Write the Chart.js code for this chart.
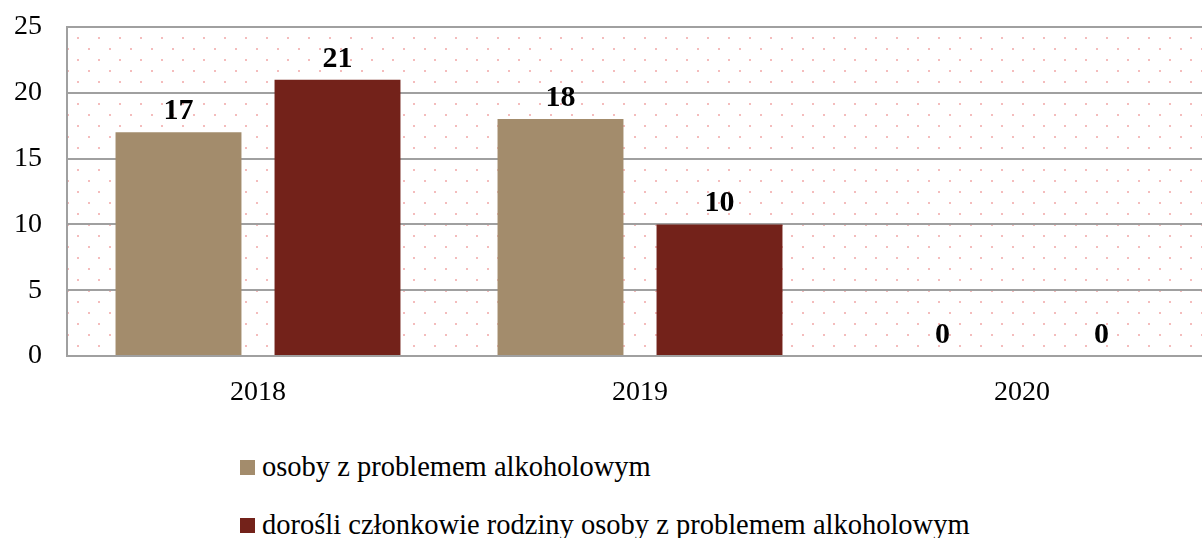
<!DOCTYPE html>
<html>
<head>
<meta charset="utf-8">
<script src="https://cdn.jsdelivr.net/npm/chart.js@4/dist/chart.umd.min.js"></script>
<style>
  html, body { margin: 0; padding: 0; background: #fff; overflow: hidden; width: 1202px; height: 538px; }
  #wrap { position: absolute; left: 0; top: 0; width: 1213px; height: 420px; }
  #legend { position: absolute; left: 240px; top: 452px; font-family: "Liberation Serif", serif; font-size: 28.5px; color: #000; }
  #legend .item { display: flex; align-items: center; height: 30px; margin-bottom: 28px; white-space: nowrap; }
  #legend .box { width: 15px; height: 15px; margin-right: 7px; }
</style>
</head>
<body>
<div id="wrap"><canvas id="chart" width="1213" height="420"></canvas></div>
<div id="legend"></div>
<script>
// dane wykresu
const years = ['2018', '2019', '2020'];
const osobyZProblemem = [17, 18, 0];
const dorosliCzlonkowie = [21, 10, 0];
const seriesNames = ['osoby z problemem alkoholowym', 'dorośli członkowie rodziny osoby z problemem alkoholowym'];
const seriesColors = ['#a38c6c', '#73221a'];
const yTicks = [0, 5, 10, 15, 20, 25];

const FONT = '"Liberation Serif", serif';

// tło obszaru wykresu: różowe kropki
function makeDots() {
    const c = document.createElement('canvas');
    c.width = 21; c.height = 22;
    const g = c.getContext('2d');
    g.fillStyle = '#fff';
    g.fillRect(0, 0, 21, 22);
    g.fillStyle = '#f4bcbc';
    g.fillRect(4, 4, 2, 2);
    g.fillRect(14, 15, 2, 2);
    return c;
}

const dotsBackground = {
    id: 'dotsBackground',
    beforeDraw(chart) {
        const { ctx, chartArea: a } = chart;
        ctx.save();
        ctx.fillStyle = ctx.createPattern(makeDots(), 'repeat');
        ctx.fillRect(a.left, a.top, a.right - a.left, a.bottom - a.top);
        ctx.restore();
    }
};

// etykiety wartości nad słupkami
const valueLabels = {
    id: 'valueLabels',
    afterDatasetsDraw(chart) {
        const ctx = chart.ctx;
        ctx.save();
        ctx.font = 'bold 30px ' + FONT;
        ctx.fillStyle = '#000';
        ctx.textAlign = 'center';
        ctx.textBaseline = 'alphabetic';
        chart.data.datasets.forEach((ds, i) => {
            chart.getDatasetMeta(i).data.forEach((bar, j) => {
                ctx.fillText(String(ds.data[j]), bar.x, bar.y - 13);
            });
        });
        ctx.restore();
    }
};

const chart = new Chart(document.getElementById('chart'), {
    type: 'bar',
    data: {
        labels: years,
        datasets: [
            { label: seriesNames[0], data: osobyZProblemem, backgroundColor: seriesColors[0] },
            { label: seriesNames[1], data: dorosliCzlonkowie, backgroundColor: seriesColors[1] }
        ]
    },
    options: {
        responsive: false,
        animation: false,
        layout: { padding: { top: 27, right: 0, bottom: 0, left: 0 } },
        datasets: { bar: { categoryPercentage: 0.8325, barPercentage: 0.792 } },
        plugins: { legend: { display: false }, tooltip: { enabled: false } },
        scales: {
            x: {
                grid: { display: false, drawTicks: false },
                border: { display: true, color: '#a0a0a0', width: 2 },
                ticks: { color: '#000', font: { family: FONT, size: 28 }, padding: 20 },
                afterFit(s) { s.height = 64; s.paddingLeft = 0; s.paddingRight = 0; }
            },
            y: {
                min: 0, max: 25,
                afterBuildTicks(s) { s.ticks = yTicks.map(v => ({ value: v })); },
                grid: { color: '#a0a0a0', lineWidth: 2, drawTicks: false },
                border: { display: true, color: '#a0a0a0', width: 2 },
                ticks: { color: '#000', font: { family: FONT, size: 28 }, padding: 25 },
                afterFit(s) { s.width = 67; s.paddingTop = 0; s.paddingBottom = 0; }
            }
        }
    },
    plugins: [dotsBackground, valueLabels]
});

// legenda (pionowa, wyrównana do lewej)
const legend = document.getElementById('legend');
chart.data.datasets.forEach(ds => {
    const item = document.createElement('div');
    item.className = 'item';
    const box = document.createElement('span');
    box.className = 'box';
    box.style.background = ds.backgroundColor;
    const txt = document.createElement('span');
    txt.textContent = ds.label;
    item.appendChild(box);
    item.appendChild(txt);
    legend.appendChild(item);
});
</script>
</body>
</html>
